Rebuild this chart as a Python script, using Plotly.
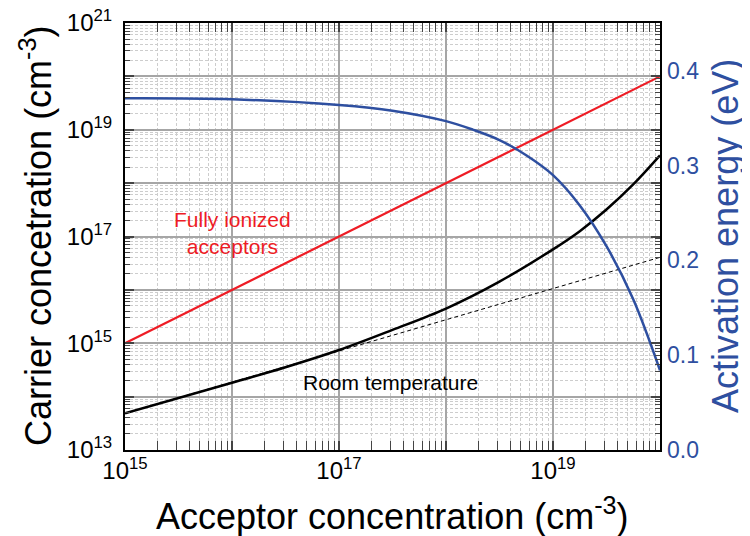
import plotly.graph_objects as go

# ---- data ----
na_full = [1e15, 1e20]
p_full = [1e15, 1e20]

na_rt = [1e15, 1e16, 3.16e16, 1e17, 3.16e17, 1e18, 3.16e18, 1e19, 1.78e19, 3.16e19, 5.62e19, 1e20]
p_rt = [4.86e13, 1.82e14, 3.55e14, 7.46e14, 1.78e15, 4.47e15, 1.43e16, 5.75e16,
        1.26e17, 3.2e17, 9.44e17, 3.31e18]

na_dash = [1e15, 1e17, 1e18, 1e19, 1e20]
p_dash = [4.86e13, 7.2e14, 2.75e15, 1.06e16, 4.07e16]

na_ea = [1e15, 1e16, 1e17, 3.16e17, 1e18, 1.78e18, 3.16e18, 5.62e18, 1e19,
         1.78e19, 3.16e19, 5.62e19, 1e20]
ea = [0.371, 0.370, 0.364, 0.358, 0.347, 0.338, 0.327, 0.311, 0.290,
      0.258, 0.215, 0.159, 0.084]

x_tickvals = [1e15, 1e16, 1e17, 1e18, 1e19, 1e20]
x_ticktext = ["10<sup>15</sup>", "", "10<sup>17</sup>", "", "10<sup>19</sup>", ""]
y_tickvals = [1e13, 1e14, 1e15, 1e16, 1e17, 1e18, 1e19, 1e20, 1e21]
y_ticktext = ["10<sup>13</sup>", "", "10<sup>15</sup>", "", "10<sup>17</sup>", "",
              "10<sup>19</sup>", "", "10<sup>21</sup>"]
y2_tickvals = [0.0, 0.1, 0.2, 0.3, 0.4]
y2_ticktext = ["0.0", "0.1", "0.2", "0.3", "0.4"]

RED = "#EE1C25"
BLUE = "#2E4FA0"
FONT = "Liberation Sans, Arial, sans-serif"

def minor_vals(lo, hi):
    vals = []
    for e in range(lo, hi):
        for k in range(2, 10):
            vals.append(float(k) * 10.0 ** e)
    return vals

fig = go.Figure()
fig.add_trace(go.Scatter(x=na_full, y=p_full, mode="lines",
                         line=dict(color=RED, width=2.2), showlegend=False))
fig.add_trace(go.Scatter(x=na_dash, y=p_dash, mode="lines",
                         line=dict(color="black", width=1, dash="4px,3px"), showlegend=False))
fig.add_trace(go.Scatter(x=na_rt, y=p_rt, mode="lines", line_shape="spline",
                         line=dict(color="black", width=2.5), showlegend=False))
fig.add_trace(go.Scatter(x=na_ea, y=ea, mode="lines", line_shape="spline", yaxis="y2",
                         line=dict(color=BLUE, width=2.5), showlegend=False))

grid_major = "#A6A6A6"
grid_minor = "#CDCDCD"

# page has an 8px body margin: figure is 742x528 placed at (8, 8)
OFF = 8
W, H = 750 - OFF, 536 - OFF
L, T = 125 - OFF, 23 - OFF
R = W - (660 - OFF)
B = H - (450 - OFF)
PW = W - L - R
PH = H - T - B

def px_x(px):
    return (px - OFF - L) / PW

def px_y(py):
    return (H - B - (py - OFF)) / PH

fig.update_layout(
    width=W, height=H,
    margin=dict(l=L, r=R, t=T, b=B, autoexpand=False),
    paper_bgcolor="white", plot_bgcolor="white",
    font=dict(family=FONT, color="black"),
    xaxis=dict(
        type="log", range=[15, 20], automargin=False,
        tickmode="array", tickvals=x_tickvals, ticktext=x_ticktext,
        tickfont=dict(size=24), ticks="inside", ticklen=9, tickwidth=1.5,
        ticklabelstandoff=-2, ticklabeloverflow="allow",
        showline=True, linecolor="black", linewidth=2, mirror="allticks",
        showgrid=True, gridcolor=grid_major, gridwidth=1.5,
        minor=dict(tickmode="array", tickvals=minor_vals(15, 20), ticks="inside",
                   ticklen=5, tickwidth=1, showgrid=True, gridcolor=grid_minor,
                   griddash="3px,2px", gridwidth=1),
        zeroline=False,
    ),
    yaxis=dict(
        type="log", range=[13, 21], automargin=False,
        tickmode="array", tickvals=y_tickvals, ticktext=y_ticktext,
        tickfont=dict(size=24), ticks="inside", ticklen=9, tickwidth=1.5,
        ticklabelstandoff=6, ticklabeloverflow="allow",
        showline=True, linecolor="black", linewidth=2, mirror="allticks",
        showgrid=True, gridcolor=grid_major, gridwidth=1.5,
        minor=dict(tickmode="array", tickvals=minor_vals(13, 21), ticks="inside",
                   ticklen=5, tickwidth=1, showgrid=True, gridcolor=grid_minor,
                   griddash="3px,2px", gridwidth=1),
        zeroline=False,
    ),
    yaxis2=dict(
        overlaying="y", side="right", range=[0, 0.4505], automargin=False,
        tickmode="array", tickvals=y2_tickvals, ticktext=y2_ticktext,
        tickfont=dict(size=23, color=BLUE), ticks="", ticklabelstandoff=6,
        ticklabeloverflow="allow",
        showgrid=False, zeroline=False, showline=False,
    ),
    annotations=[
        dict(x=px_x(392), y=px_y(514), xref="paper", yref="paper",
             text="Acceptor concentration (cm<sup>-3</sup>)", showarrow=False,
             xanchor="center", yanchor="middle", font=dict(size=36, color="black")),
        dict(x=px_x(36), y=px_y(236), xref="paper", yref="paper", textangle=-90,
             text="Carrier concetration (cm<sup>-3</sup>)", showarrow=False,
             xanchor="center", yanchor="middle", font=dict(size=36, color="black")),
        dict(x=px_x(725), y=px_y(236), xref="paper", yref="paper", textangle=-90,
             text="Activation energy (eV)", showarrow=False,
             xanchor="center", yanchor="middle", font=dict(size=36, color=BLUE)),
        dict(x=16.0, y=17.06, xref="x", yref="y", text="Fully ionized<br>acceptors",
             showarrow=False, font=dict(size=21, color=RED), align="center"),
        dict(x=17.48, y=14.27, xref="x", yref="y", text="Room temperature",
             showarrow=False, font=dict(size=21, color="black")),
    ],
)

fig.write_html("out.html")
